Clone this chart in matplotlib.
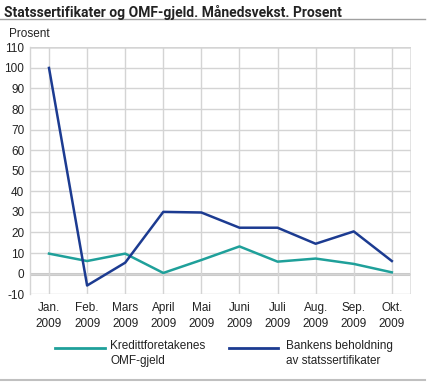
import matplotlib
matplotlib.use("Agg")
import matplotlib.pyplot as plt
from matplotlib.lines import Line2D

plt.rcParams['font.family'] = ['Liberation Sans', 'DejaVu Sans']

# data
months = ["Jan.\n2009", "Feb.\n2009", "Mars\n2009", "April\n2009", "Mai\n2009",
          "Juni\n2009", "Juli\n2009", "Aug.\n2009", "Sep.\n2009", "Okt.\n2009"]
omf_gjeld = [9.7, 6.1, 9.7, 0.3, 6.6, 13.2, 5.8, 7.3, 4.7, 0.6]
statssert = [100.0, -5.8, 5.3, 30.0, 29.7, 22.3, 22.3, 14.5, 20.5, 6.1]
yticks = list(range(-10, 111, 10))

teal = '#1fa09a'
navy = '#1c3b91'
grid_c = '#d4d4d4'

fig = plt.figure(figsize=(4.28, 3.82), dpi=100)
ax = fig.add_axes([0.070, 0.230, 0.890, 0.646])

x = list(range(len(months)))
ax.plot(x, omf_gjeld, color=teal, lw=1.8, zorder=3)
ax.plot(x, statssert, color=navy, lw=1.8, zorder=3)

ax.set_xlim(-0.5, len(months) - 0.5)
ax.set_ylim(-10, 110)
ax.set_yticks(yticks)
ax.set_yticklabels([str(v) for v in yticks], fontsize=8.5, color='#222222')
ax.set_xticks(x)
ax.set_xticklabels(months, fontsize=8.5, color='#222222', linespacing=1.4)
ax.tick_params(axis='x', length=0, pad=6)
ax.tick_params(axis='y', length=0, pad=4)
ax.grid(True, color=grid_c, lw=1.0, zorder=0)
ax.axhline(0, color='#c8c8c8', lw=2.2, zorder=1)
for s in ['top', 'right', 'bottom']:
    ax.spines[s].set_visible(False)
ax.spines['left'].set_color(grid_c)
ax.spines['left'].set_linewidth(1.0)
ax.axhline(110, color='#e0e0e0', lw=2, zorder=1)
ax.axvline(9.5, color='#e0e0e0', lw=2, zorder=1)

# title and unit
fig.text(0.010, 0.968, "Statssertifikater og OMF-gjeld. Månedsvekst. Prosent",
         fontsize=10, fontweight='bold', family=['Roboto', 'DejaVu Sans'],
         color='#222222', va='center')
fig.add_artist(Line2D([0.0, 0.993], [0.950, 0.950], color='#a0a0a0', lw=1.0))
fig.text(0.020, 0.912, "Prosent", fontsize=8.5, color='#222222', va='center')
fig.add_artist(Line2D([0.0, 0.993], [0.004, 0.004], color='#c0c0c0', lw=1.5))

# legend
fig.add_artist(Line2D([0.129, 0.245], [0.090, 0.090], color=teal, lw=2))
fig.text(0.258, 0.111, "Kredittforetakenes\nOMF-gjeld", fontsize=8.5,
         color='#222222', va='top', linespacing=1.4)
fig.add_artist(Line2D([0.535, 0.650], [0.090, 0.090], color=navy, lw=2))
fig.text(0.668, 0.111, "Bankens beholdning\nav statssertifikater", fontsize=8.5,
         color='#222222', va='top', linespacing=1.4)

plt.savefig('out.png', dpi=100)
